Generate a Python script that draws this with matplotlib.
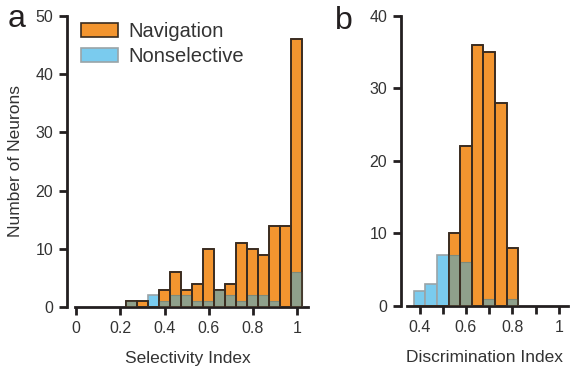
import numpy as np
import matplotlib
matplotlib.use("Agg")
import matplotlib.pyplot as plt
from matplotlib.patches import Patch

plt.rcParams['font.family'] = ['Liberation Sans', 'DejaVu Sans']

# panel a: selectivity index, bins centred on multiples of 0.05
sel_centers = [0.25, 0.30, 0.35, 0.40, 0.45, 0.50, 0.55, 0.60,
               0.65, 0.70, 0.75, 0.80, 0.85, 0.90, 0.95, 1.00]
sel_nav = [1, 1, 0, 3, 6, 3, 4, 10, 3, 4, 11, 10, 9, 14, 14, 46]
sel_nonsel = [1, 0, 2, 1, 2, 2, 1, 1, 3, 2, 1, 2, 2, 1, 0, 6]

# panel b: discrimination index
dis_centers = [0.40, 0.45, 0.50, 0.55, 0.60, 0.65, 0.70, 0.75, 0.80]
dis_nav = [0, 0, 0, 10, 22, 36, 35, 28, 8]
dis_nonsel = [2, 3, 7, 7, 6, 0, 1, 0, 1]

ORANGE = '#F3952F'
BLUE = '#7ACBEE'
OVERLAP = '#8FA08B'
DARK = '#3a2c20'
GREY = '#9aa4a8'
INK = '#231f20'
W = 0.05


def draw_hist(ax, centers, nav, nonsel):
    nav = np.array(nav)
    nonsel = np.array(nonsel)
    both = np.minimum(nav, nonsel)
    ax.bar(centers, nonsel, width=W, color=BLUE, edgecolor=GREY, linewidth=1.2, zorder=1)
    ax.bar(centers, nav, width=W, color=ORANGE, edgecolor=DARK, linewidth=1.2, zorder=2)
    ax.bar(centers, both, width=W, color=OVERLAP, edgecolor='none', zorder=3)
    ax.bar(centers, both, width=W, color='none', edgecolor='#7d8a7a', linewidth=0.8, zorder=3.5)
    # redraw the orange outlines over the overlap
    ax.bar(centers, nav, width=W, color='none', edgecolor=DARK, linewidth=1.2, zorder=4)


def style_axes(ax):
    for s in ['top', 'right']:
        ax.spines[s].set_visible(False)
    for s in ['left', 'bottom']:
        ax.spines[s].set_linewidth(2)
        ax.spines[s].set_color(INK)
    ax.tick_params(direction='out', length=6, width=2, color=INK,
                   labelsize=11.5, labelcolor='#333333', pad=4)


fig = plt.figure(figsize=(5.7, 3.68), dpi=100)

ax1 = fig.add_axes([0.1175, 0.1658, 0.4228, 0.7908])
draw_hist(ax1, sel_centers, sel_nav, sel_nonsel)
style_axes(ax1)
ax1.set_xlim(-0.042, 1.05)
ax1.set_ylim(0, 50)
ax1.spines['bottom'].set_bounds(-0.004, 1.05)
ax1.set_xticks([0, 0.2, 0.4, 0.6, 0.8, 1.0])
ax1.set_xticklabels(['0', '0.2', '0.4', '0.6', '0.8', '1'])
ax1.set_yticks([0, 10, 20, 30, 40, 50])
ax1.set_xlabel('Selectivity Index', fontsize=12.5, color='#333333', labelpad=11)
ax1.set_ylabel('Number of Neurons', fontsize=12.5, color='#333333', labelpad=9)

handles = [Patch(facecolor=ORANGE, edgecolor=DARK, linewidth=1.2, label='Navigation'),
           Patch(facecolor=BLUE, edgecolor=GREY, linewidth=1.2, label='Nonselective')]
ax1.legend(handles=handles, loc='upper left', bbox_to_anchor=(81 / 570, 1 - 22 / 368),
           bbox_transform=fig.transFigure, frameon=False, fontsize=14.5,
           handlelength=1.85, handleheight=0.7, handletextpad=0.5,
           labelspacing=0.3, borderpad=0, borderaxespad=0, labelcolor='#333333')

ax2 = fig.add_axes([0.7035, 0.1685, 0.293, 0.789])
draw_hist(ax2, dis_centers, dis_nav, dis_nonsel)
style_axes(ax2)
ax2.set_xlim(0.32, 1.04)
ax2.set_ylim(0, 40)
ax2.spines['bottom'].set_bounds(0.345, 1.04)
ax2.set_xticks([0.4, 0.5, 0.6, 0.7, 0.8, 0.9, 1.0])
ax2.set_xticklabels(['0.4', '', '0.6', '', '0.8', '', '1'])
ax2.set_yticks([0, 10, 20, 30, 40])
ax2.set_xlabel('Discrimination Index', fontsize=12.5, color='#333333', labelpad=11)

fig.text(17 / 570, 1 - 19 / 368, 'a', fontsize=23, ha='center', va='center', color=INK)
fig.text(344 / 570, 1 - 21 / 368, 'b', fontsize=23, ha='center', va='center', color=INK)

fig.savefig('out.png', dpi=100)
